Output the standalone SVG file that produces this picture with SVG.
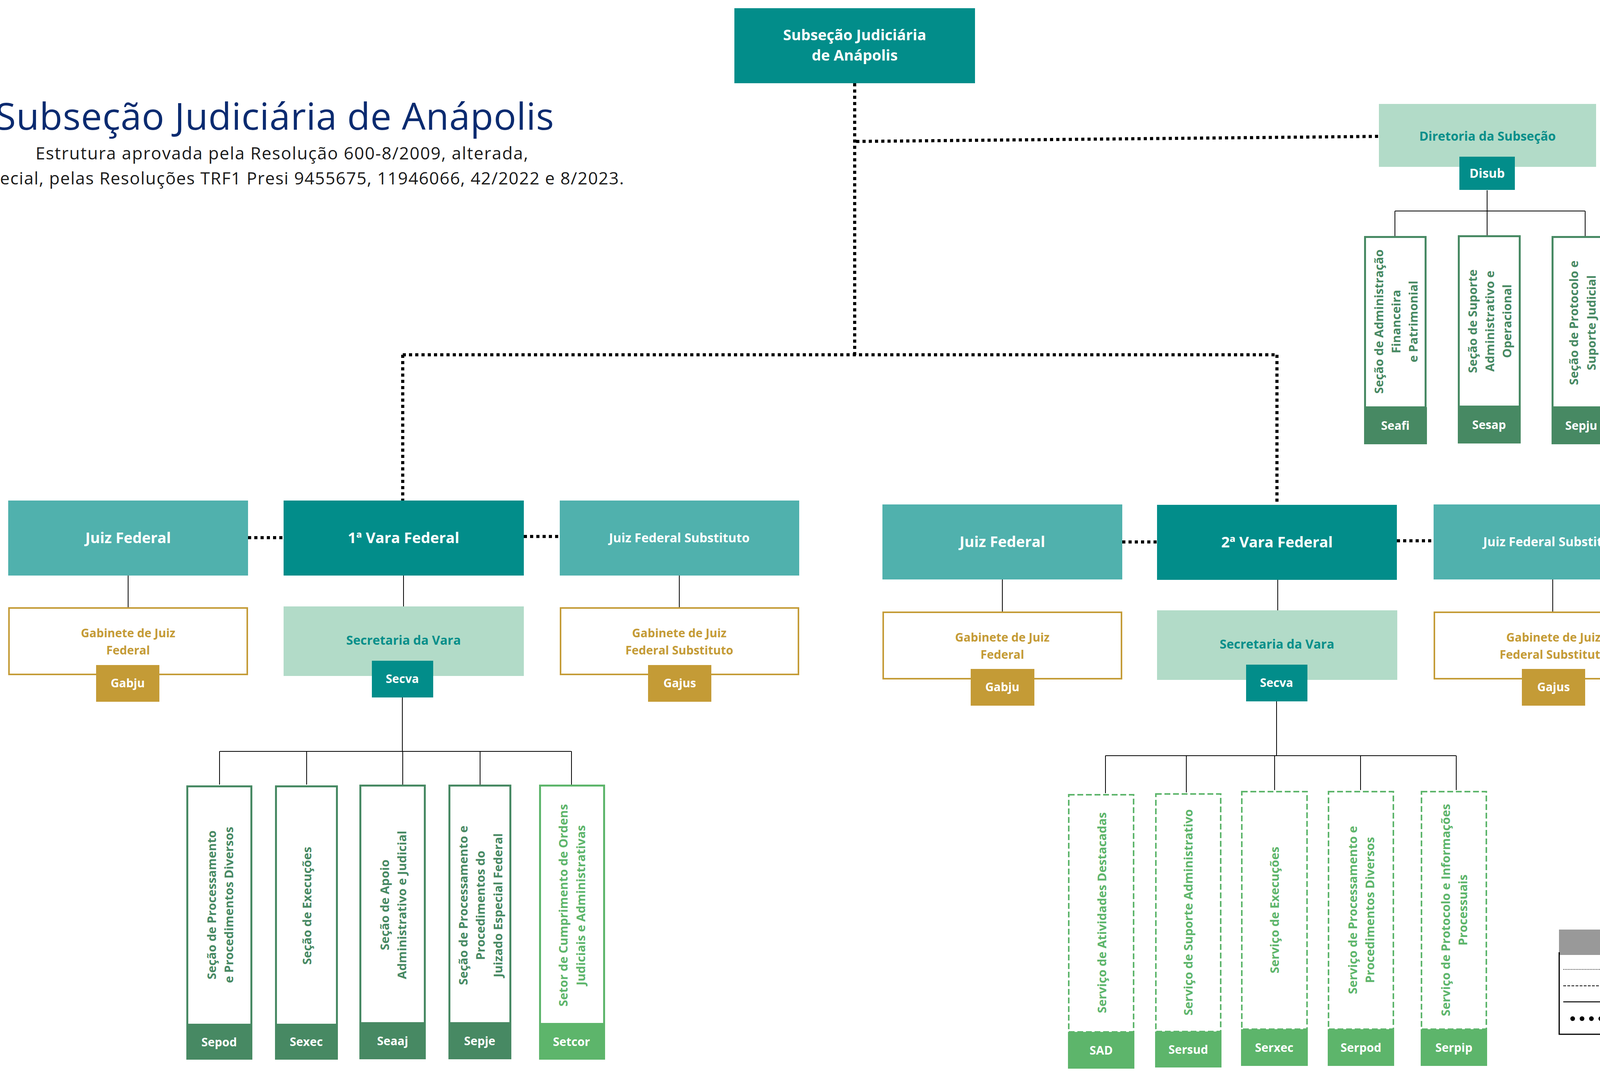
<svg xmlns="http://www.w3.org/2000/svg" width="4301" height="2741" viewBox="0 0 4301 2741">
<style>
text{font-family:'Open Sans','Liberation Sans',sans-serif}
.teal{fill:#028d8a}
.juiz{fill:#50b1ad}
.light{fill:#b2dbc8}
.gold{fill:#c49b36}
.dg{fill:#478963}
.lg{fill:#5db56b}
.wt{fill:#fff;font-weight:700;text-anchor:middle}
.gab{fill:#fff;stroke:#c49b36;stroke-width:4}
.gbox{fill:#fff;stroke:#478963;stroke-width:5}
.lbox{fill:#fff;stroke:#5db56b;stroke-width:5}
.dbox{fill:#fff;stroke:#5db56b;stroke-width:4;stroke-dasharray:15 7}
.vt{font-size:31px;font-weight:700;text-anchor:middle;fill:#478963}
.vtl{font-size:31px;font-weight:700;text-anchor:middle;fill:#5db56b}
.gt{font-size:30px;font-weight:700;text-anchor:middle;fill:#c49b36}
.lab{font-size:30px;font-weight:700;text-anchor:middle;fill:#fff}
.sub{stroke:#000;stroke-width:2;fill:none}
.virt{stroke:#000;stroke-width:8;stroke-dasharray:8 8;fill:none}
.leg{font-size:24px;fill:#222}
</style>

<g id="title">
<text x="-12" y="332" font-size="96" fill="#0b2b70" textLength="1430">Subseção Judiciária de Anápolis</text>
<text x="91" y="408" font-size="44" fill="#1a1a1a" textLength="1261">Estrutura aprovada pela Resolução 600-8/2009, alterada,</text>
<text x="0" y="472" font-size="44" fill="#1a1a1a" textLength="1597">ecial, pelas Resoluções TRF1 Presi 9455675, 11946066, 42/2022 e 8/2023.</text>
</g>

<g id="connectors">
<path class="virt" d="M2188 213V910M1031 908H3269M1031 908V1281M3269 908V1292"/>
<path class="virt" d="M2192 362L3530 349"/>
<path class="virt" d="M635 1376H726M1341 1373H1433"/>
<path class="virt" d="M2873 1387H2962M3576 1384H3670"/>
<path class="sub" d="M3807 487V602M3571 540H4058M3571 540V604M4058 540V604"/>
<path class="sub" d="M328 1473V1554M1033 1473V1552M1739 1473V1554"/>
<path class="sub" d="M1030 1785V1923M562 1923H1463M562 1923V2008M785 1923V2008M1031 1923V2008M1229 1923V2008M1463 1923V2008"/>
<path class="sub" d="M2566 1483V1565M3271 1484V1562M3975 1483V1565"/>
<path class="sub" d="M3268 1795V1934M2830 1934H3728M2830 1934V2030M3037 1934V2028M3263 1934V2022M3483 1934V2022M3728 1934V2022"/>
</g>

<g id="subsecao">
<rect x="1880" y="21" width="616" height="192" class="teal"/>
<text class="wt" x="2188" y="103" font-size="38">Subseção Judiciária</text>
<text class="wt" x="2188" y="155" font-size="38">de Anápolis</text>
</g>

<g id="diretoria">
<rect x="3530" y="266" width="556" height="161" class="light"/>
<text x="3808" y="360" font-size="32" font-weight="700" text-anchor="middle" fill="#078f8a">Diretoria da Subseção</text>
<rect x="3736" y="401" width="142" height="85" class="teal"/>
<text class="wt" x="3807" y="455" font-size="32">Disub</text>
</g>

<g id="seafi">
<rect x="3494.5" y="606.5" width="155" height="436" class="gbox"/>
<rect x="3492" y="1042" width="161" height="95" class="dg"/>
<g transform="translate(0,823) rotate(-90)">
<text class="vt" x="0" y="3541">Seção de Administração</text>
<text class="vt" x="0" y="3585">Financeira</text>
<text class="vt" x="0" y="3629">e Patrimonial</text>
</g>
<text class="lab" x="3572" y="1100" font-size="32">Seafi</text>
</g>

<g id="sesap">
<rect x="3734.5" y="604.5" width="156" height="436" class="gbox"/>
<rect x="3732" y="1040" width="161" height="95" class="dg"/>
<g transform="translate(0,822) rotate(-90)">
<text class="vt" x="0" y="3781">Seção de Suporte</text>
<text class="vt" x="0" y="3825">Administrativo e</text>
<text class="vt" x="0" y="3869">Operacional</text>
</g>
<text class="lab" x="3812" y="1098" font-size="32">Sesap</text>
</g>

<g id="sepju">
<rect x="3974.5" y="606.5" width="148" height="436" class="gbox"/>
<rect x="3972" y="1042" width="153" height="95" class="dg"/>
<g transform="translate(0,826) rotate(-90)">
<text class="vt" x="0" y="4040">Seção de Protocolo e</text>
<text class="vt" x="0" y="4085">Suporte Judicial</text>
</g>
<text class="lab" x="4048" y="1100" font-size="32">Sepju</text>
</g>

<g id="juiz1">
<rect x="21" y="1281" width="614" height="192" class="juiz"/>
<text class="wt" x="328" y="1390" font-size="38">Juiz Federal</text>
</g>
<g id="vara1">
<rect x="726" y="1281" width="615" height="192" class="teal"/>
<text class="wt" x="1033" y="1390" font-size="38">1ª Vara Federal</text>
</g>
<g id="jfs1">
<rect x="1433" y="1281" width="613" height="192" class="juiz"/>
<text class="wt" x="1739" y="1388" font-size="32">Juiz Federal Substituto</text>
</g>
<g id="gabju1">
<rect x="23" y="1556" width="610" height="170" class="gab"/>
<text class="gt" x="328" y="1631">Gabinete de Juiz</text>
<text class="gt" x="328" y="1675">Federal</text>
<rect x="246" y="1702" width="162" height="94" class="gold"/>
<text class="lab" x="327" y="1759">Gabju</text>
</g>
<g id="secva1">
<rect x="726" y="1552" width="615" height="178" class="light"/>
<text x="1033" y="1650" font-size="32" font-weight="700" text-anchor="middle" fill="#078f8a">Secretaria da Vara</text>
<rect x="952" y="1691" width="157" height="94" class="teal"/>
<text class="lab" x="1030" y="1748">Secva</text>
</g>
<g id="gajus1">
<rect x="1435" y="1556" width="609" height="170" class="gab"/>
<text class="gt" x="1739" y="1631">Gabinete de Juiz</text>
<text class="gt" x="1739" y="1675">Federal Substituto</text>
<rect x="1659" y="1702" width="162" height="94" class="gold"/>
<text class="lab" x="1740" y="1759">Gajus</text>
</g>

<g id="sepod">
<rect x="479.5" y="2012.5" width="164" height="610" class="gbox"/>
<rect x="477" y="2622" width="169" height="90" class="dg"/>
<g transform="translate(0,2316) rotate(-90)">
<text class="vt" x="0" y="553">Seção de Processamento</text>
<text class="vt" x="0" y="597">e Procedimentos Diversos</text>
</g>
<text class="lab" x="561" y="2678">Sepod</text>
</g>
<g id="sexec">
<rect x="706.5" y="2012.5" width="156" height="610" class="gbox"/>
<rect x="704" y="2620" width="161" height="92" class="dg"/>
<g transform="translate(0,2318) rotate(-90)">
<text class="vt" x="0" y="797">Seção de Execuções</text>
</g>
<text class="lab" x="784" y="2677">Sexec</text>
</g>
<g id="seaaj">
<rect x="922.5" y="2010.5" width="165" height="608" class="gbox"/>
<rect x="920" y="2618" width="170" height="93" class="dg"/>
<g transform="translate(0,2316) rotate(-90)">
<text class="vt" x="0" y="996">Seção de Apoio</text>
<text class="vt" x="0" y="1040">Administrativo e Judicial</text>
</g>
<text class="lab" x="1005" y="2675">Seaaj</text>
</g>
<g id="sepje">
<rect x="1150.5" y="2010.5" width="156" height="608" class="gbox"/>
<rect x="1148" y="2618" width="161" height="93" class="dg"/>
<g transform="translate(0,2317) rotate(-90)">
<text class="vt" x="0" y="1197">Seção de Processamento e</text>
<text class="vt" x="0" y="1241">Procedimentos do</text>
<text class="vt" x="0" y="1286">Juizado Especial Federal</text>
</g>
<text class="lab" x="1228" y="2675">Sepje</text>
</g>
<g id="setcor">
<rect x="1382.5" y="2010.5" width="164" height="610" class="lbox"/>
<rect x="1380" y="2620" width="169" height="92" class="lg"/>
<g transform="translate(0,2317) rotate(-90)">
<text class="vtl" x="0" y="1453">Setor de Cumprimento de Ordens</text>
<text class="vtl" x="0" y="1498">Judiciais e Administrativas</text>
</g>
<text class="lab" x="1463" y="2677">Setcor</text>
</g>

<g id="juiz2">
<rect x="2259" y="1291" width="614" height="192" class="juiz"/>
<text class="wt" x="2566" y="1400" font-size="38">Juiz Federal</text>
</g>
<g id="vara2">
<rect x="2962" y="1292" width="614" height="192" class="teal"/>
<text class="wt" x="3269" y="1401" font-size="38">2ª Vara Federal</text>
</g>
<g id="jfs2">
<rect x="3670" y="1291" width="614" height="192" class="juiz"/>
<text class="wt" x="3977" y="1398" font-size="32">Juiz Federal Substituto</text>
</g>
<g id="gabju2">
<rect x="2261" y="1567" width="610" height="170" class="gab"/>
<text class="gt" x="2566" y="1642">Gabinete de Juiz</text>
<text class="gt" x="2566" y="1686">Federal</text>
<rect x="2485" y="1712" width="163" height="94" class="gold"/>
<text class="lab" x="2566" y="1769">Gabju</text>
</g>
<g id="secva2">
<rect x="2962" y="1562" width="615" height="178" class="light"/>
<text x="3269" y="1660" font-size="32" font-weight="700" text-anchor="middle" fill="#078f8a">Secretaria da Vara</text>
<rect x="3190" y="1701" width="157" height="94" class="teal"/>
<text class="lab" x="3268" y="1758">Secva</text>
</g>
<g id="gajus2">
<rect x="3672" y="1567" width="610" height="170" class="gab"/>
<text class="gt" x="3977" y="1642">Gabinete de Juiz</text>
<text class="gt" x="3977" y="1686">Federal Substituto</text>
<rect x="3896" y="1712" width="162" height="94" class="gold"/>
<text class="lab" x="3977" y="1769">Gajus</text>
</g>

<g id="sad">
<rect x="2736" y="2034" width="166" height="607" class="dbox"/>
<rect x="2734" y="2641" width="170" height="94" class="lg"/>
<g transform="translate(0,2336) rotate(-90)">
<text class="vtl" x="0" y="2832">Serviço de Atividades Destacadas</text>
</g>
<text class="lab" x="2819" y="2699">SAD</text>
</g>
<g id="sersud">
<rect x="2959" y="2032" width="166" height="608" class="dbox"/>
<rect x="2957" y="2640" width="170" height="92" class="lg"/>
<g transform="translate(0,2335) rotate(-90)">
<text class="vtl" x="0" y="3053">Serviço de Suporte Administrativo</text>
</g>
<text class="lab" x="3042" y="2697">Sersud</text>
</g>
<g id="serxec">
<rect x="3179" y="2026" width="167" height="608" class="dbox"/>
<rect x="3177" y="2634" width="171" height="94" class="lg"/>
<g transform="translate(0,2329) rotate(-90)">
<text class="vtl" x="0" y="3274">Serviço de Execuções</text>
</g>
<text class="lab" x="3262" y="2692">Serxec</text>
</g>
<g id="serpod">
<rect x="3401" y="2026" width="166" height="608" class="dbox"/>
<rect x="3399" y="2634" width="170" height="94" class="lg"/>
<g transform="translate(0,2329) rotate(-90)">
<text class="vtl" x="0" y="3474">Serviço de Processamento e</text>
<text class="vtl" x="0" y="3518">Procedimentos Diversos</text>
</g>
<text class="lab" x="3484" y="2692">Serpod</text>
</g>
<g id="serpip">
<rect x="3639" y="2026" width="166" height="608" class="dbox"/>
<rect x="3637" y="2634" width="170" height="94" class="lg"/>
<g transform="translate(0,2329) rotate(-90)">
<text class="vtl" x="0" y="3712">Serviço de Protocolo e Informações</text>
<text class="vtl" x="0" y="3756">Processuais</text>
</g>
<text class="lab" x="3722" y="2692">Serpip</text>
</g>

<g id="legenda">
<rect x="3991" y="2379" width="320" height="65" fill="#999"/>
<text x="4202" y="2419" font-size="23" font-weight="700" fill="#fff">Legenda</text>
<path d="M3991.5 2437V2647H4305" stroke="#000" stroke-width="3" fill="none"/>
<path d="M4002 2481H4114" stroke="#000" stroke-width="1.5" stroke-dasharray="2 2" fill="none"/>
<path d="M4002 2523H4114" stroke="#000" stroke-width="2" stroke-dasharray="7 3.5" fill="none"/>
<path d="M4002 2564H4114" stroke="#000" stroke-width="2.5" fill="none"/>
<g fill="#000"><circle cx="4026" cy="2607" r="6"/><circle cx="4050" cy="2607" r="6"/><circle cx="4074" cy="2607" r="6"/><circle cx="4098" cy="2607" r="6"/></g>
<text class="leg" x="4147" y="2490">Vinculação não</text>
<text class="leg" x="4147" y="2532">Assessoria</text>
<text class="leg" x="4147" y="2573">Subordinação</text>
<text class="leg" x="4147" y="2614">Virtual</text>
</g>
</svg>
